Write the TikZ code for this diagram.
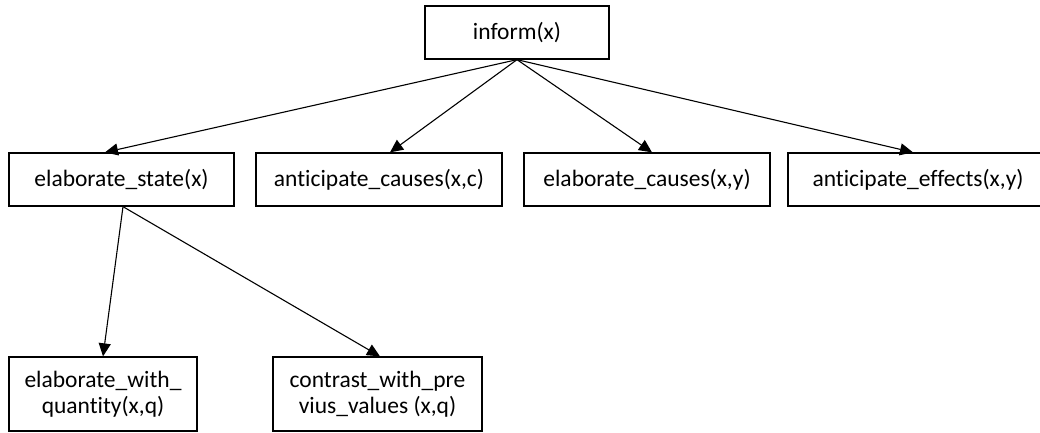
\documentclass[tikz,border=0pt]{standalone}
\usepackage{fontspec}
\setmainfont{Carlito}[Ligatures={NoCommon}]
\usetikzlibrary{arrows.meta}
\begin{document}
\begin{tikzpicture}[x=1pt,y=-1pt,
  box/.style={draw=black,line width=1.3pt,rectangle,inner sep=0pt,
    font=\fontsize{23.5}{26}\selectfont,align=center},
  link/.style={draw=black,line width=1.1pt,-{Triangle[length=13pt,width=12pt]}}]
\clip (0,0) rectangle (1040,432);
\useasboundingbox (0,0) rectangle (1040,432);
% root
\node[box,minimum width=184pt,minimum height=53pt] (inform) at (517,32.5) {inform(x)};
% second level
\node[box,minimum width=225pt,minimum height=53pt] (estate) at (121.5,179.5) {elaborate\_state(x)};
\node[box,minimum width=246pt,minimum height=53pt] (acauses) at (379,179.5) {anticipate\_causes(x,c)};
\node[box,minimum width=246pt,minimum height=53pt] (ecauses) at (647,179.5) {elaborate\_causes(x,y)};
\node[box,minimum width=260pt,minimum height=53pt] (aeffects) at (918,179.5) {anticipate\_effects(x,y)};
% third level
\node[box,minimum width=188pt,minimum height=74pt] (ewith) at (103,394) {elaborate\_with\_\\quantity(x,q)};
\node[box,minimum width=209pt,minimum height=74pt] (contrast) at (377.5,394) {contrast\_with\_pre\\vius\_values (x,q)};
% connectors
\draw[link] (inform.south) -- ([xshift=-16.5pt]estate.north);
\draw[link] (inform.south) -- ([xshift=11pt]acauses.north);
\draw[link] (inform.south) -- ([xshift=5pt]ecauses.north);
\draw[link] (inform.south) -- ([xshift=-5pt]aeffects.north);
\draw[link] ([xshift=1.5pt]estate.south) -- (ewith.north);
\draw[link] ([xshift=1.5pt]estate.south) -- ([xshift=2.5pt]contrast.north);
\end{tikzpicture}
\end{document}
